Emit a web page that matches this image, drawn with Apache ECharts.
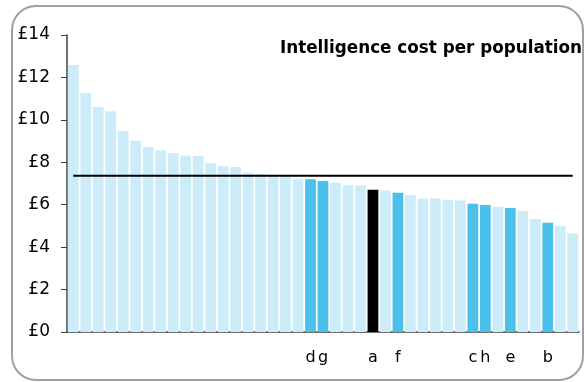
<!DOCTYPE html>
<html>
<head>
<meta charset="utf-8">
<script src="https://cdn.jsdelivr.net/npm/echarts@6/dist/echarts.min.js"></script>
<style>
html,body{margin:0;padding:0;background:#fff;}
#chart{width:584px;height:382px;}
</style>
</head>
<body>
<div id="chart"></div>
<script>
var title = 'Intelligence cost per population';
var categories = ['','','','','','','','','','','','','','','','','','','','d','g','','','','a','','f','','','','','','c','h','','e','','','b','',''];
var values = [12.58, 11.27, 10.61, 10.40, 9.48, 9.01, 8.72, 8.57, 8.44, 8.31, 8.30, 7.96, 7.83, 7.78, 7.51, 7.45, 7.38, 7.36, 7.22, 7.20, 7.12, 7.03, 6.92, 6.90, 6.71, 6.67, 6.56, 6.46, 6.29, 6.29, 6.23, 6.20, 6.05, 5.99, 5.90, 5.84, 5.70, 5.33, 5.15, 5.00, 4.64];
var average = 7.37;
var yTicks = [0, 2, 4, 6, 8, 10, 12, 14];

var LIGHT = '#CDECF9', DARK = '#4AC0EA', SELF = '#000000';
var FONT = 'DejaVu Sans';

var barData = values.map(function (v, i) {
  var c = categories[i];
  var color = c === '' ? LIGHT : (c === 'a' ? SELF : DARK);
  return { value: v, itemStyle: { color: color } };
});
var avgData = categories.map(function () { return average; });

var chart = echarts.init(document.getElementById('chart'), null, { renderer: 'canvas' });
chart.setOption({
  animation: false,
  backgroundColor: '#fff',
  title: {
    text: title,
    right: 2,
    top: 40,
    padding: 0,
    textStyle: { fontFamily: FONT, fontSize: 16.8, fontWeight: 'bold', color: '#000' }
  },
  graphic: [{
    type: 'rect',
    shape: { x: 12, y: 6, width: 571, height: 374, r: 24 },
    style: { fill: 'none', stroke: '#a0a0a0', lineWidth: 2 },
    silent: true,
    z: 100
  }],
  grid: { left: 67, right: 5, top: 35, bottom: 50, containLabel: false },
  xAxis: {
    type: 'category',
    data: categories,
    axisLine: { show: true, lineStyle: { color: '#404040', width: 1.5 } },
    axisTick: { show: false },
    axisLabel: { interval: 0, margin: 18, fontFamily: FONT, fontSize: 16, color: '#000' },
    splitLine: { show: false }
  },
  yAxis: {
    type: 'value',
    min: yTicks[0],
    max: yTicks[yTicks.length - 1],
    interval: 2,
    axisLine: { show: true, lineStyle: { color: '#404040', width: 1.5 } },
    axisTick: { show: true, length: 6, lineStyle: { color: '#404040' } },
    axisLabel: {
      margin: 17, fontFamily: FONT, fontSize: 17, color: '#000',
      formatter: function (v) { return '£' + v; }
    },
    splitLine: { show: false }
  },
  series: [{
    type: 'bar',
    data: barData,
    barCategoryGap: '14%',
    z: 2
  }, {
    type: 'line',
    data: avgData,
    symbol: 'none',
    lineStyle: { color: '#000', width: 2 },
    z: 3
  }]
});
</script>
</body>
</html>
